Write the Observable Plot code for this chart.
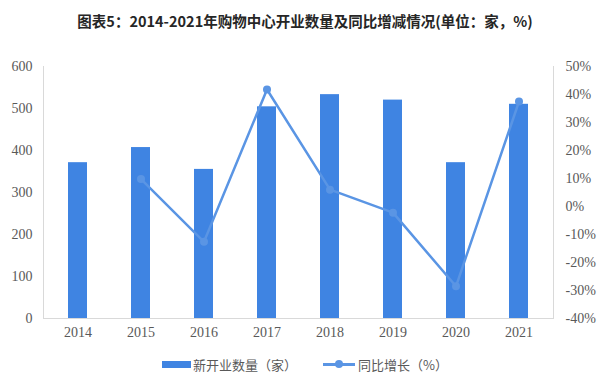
<!DOCTYPE html>
<html>
<head>
<meta charset="utf-8">
<script src="https://cdn.jsdelivr.net/npm/d3@7"></script>
<script src="https://cdn.jsdelivr.net/npm/@observablehq/plot@0.6"></script>
<style>
  html, body { margin: 0; padding: 0; background: #fff; }
  #wrap { width: 600px; height: 376px; position: relative; overflow: hidden; }
  #title { height: 40px; line-height: 42px; text-align: center; font-family: "Noto Sans CJK SC", sans-serif; font-weight: bold; font-size: 14.5px; color: #262626; padding-left: 10px; box-sizing: border-box; }
  #chart { height: 310px; }
  #legend { position: absolute; left: 162px; top: 354px; height: 20px; display: flex; align-items: center; font-family: "Noto Sans CJK SC", sans-serif; font-size: 13px; color: #595959; }
  .sw { width: 29px; height: 7px; background: #3F84E2; margin-right: 2px; }
  .ln { width: 32px; height: 10px; position: relative; margin-right: 3px; margin-left: 26px; }
  .ln::before { content: ""; position: absolute; left: 0; right: 0; top: 4px; height: 2.5px; background: #5A95E4; }
  .ln::after { content: ""; position: absolute; left: 12px; top: 1px; width: 8px; height: 8px; border-radius: 50%; background: #5A95E4; }
</style>
</head>
<body>
<div id="wrap">
  <div id="title">图表5：2014-2021年购物中心开业数量及同比增减情况(单位：家，%)</div>
  <div id="chart"></div>
  <div id="legend">
    <div class="sw"></div><span>新开业数量（家）</span>
    <div class="ln"></div><span>同比增长（%）</span>
  </div>
</div>
<script>
const years = ["2014", "2015", "2016", "2017", "2018", "2019", "2020", "2021"];
const openings = [371, 407, 355, 504, 533, 520, 371, 510];
const growth = [null, 9.8, -12.6, 41.8, 6.0, -2.2, -28.5, 37.5];
const leftTicks = [0, 100, 200, 300, 400, 500, 600];
const rightTicks = [-40, -30, -20, -10, 0, 10, 20, 30, 40, 50];

const barColor = "#3F84E2";
const lineColor = "#5A95E4";
const toLeft = p => (p + 40) / 90 * 600;
const fromLeft = v => Math.round(v / 600 * 90 - 40);

const bars = years.map((y, i) => ({year: y, value: openings[i]}));
const pts = years.map((y, i) => ({year: y, g: growth[i]})).filter(d => d.g != null);

const chart = Plot.plot({
  width: 600,
  height: 310,
  marginTop: 26,
  marginBottom: 32,
  marginLeft: 43,
  marginRight: 47,
  style: {fontFamily: "'Liberation Serif', serif", fontSize: "14px", color: "#595959", background: "transparent"},
  x: {domain: years, paddingInner: 0.7, paddingOuter: 0.35},
  y: {domain: [0, 600]},
  marks: [
    Plot.frame({anchor: "left", stroke: "#d9d9d9"}),
    Plot.frame({anchor: "right", stroke: "#d9d9d9"}),
    Plot.frame({anchor: "bottom", stroke: "#d9d9d9"}),
    Plot.barY(bars, {x: "year", y: "value", fill: barColor}),
    Plot.line(pts, {x: "year", y: d => toLeft(d.g), stroke: lineColor, strokeWidth: 2.5}),
    Plot.dot(pts, {x: "year", y: d => toLeft(d.g), r: 4, fill: lineColor}),
    Plot.axisY({ticks: leftTicks, tickSize: 0, tickPadding: 11, label: null, fontSize: 14}),
    Plot.axisY({anchor: "right", ticks: rightTicks.map(toLeft), tickFormat: v => fromLeft(v) + "%", tickSize: 0, tickPadding: 12, label: null, fontSize: 14}),
    Plot.axisX({tickSize: 0, tickPadding: 9, label: null, fontSize: 14})
  ]
});
document.getElementById("chart").appendChild(chart);
</script>
</body>
</html>
